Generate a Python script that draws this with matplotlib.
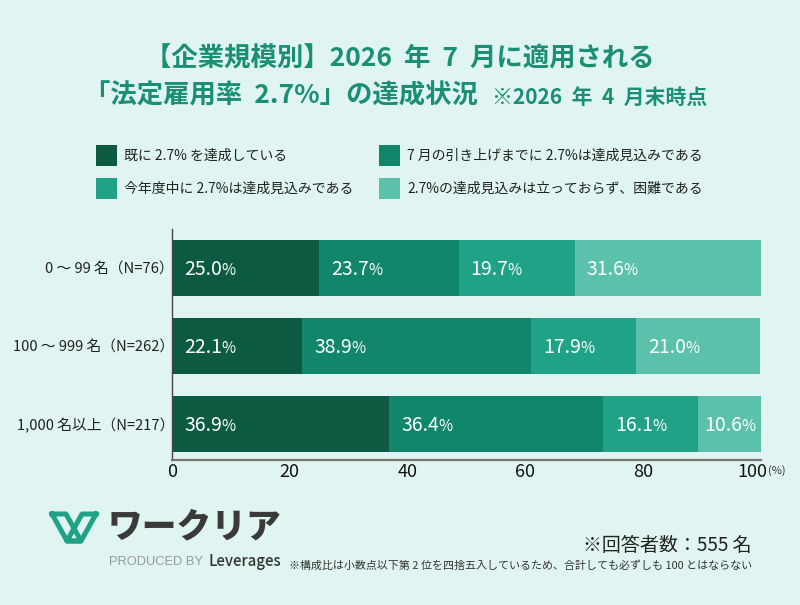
import matplotlib
matplotlib.use('Agg')
import matplotlib.pyplot as plt
from matplotlib.patches import Rectangle
from matplotlib.transforms import ScaledTranslation

plt.rcParams['font.family'] = ['Noto Sans CJK JP', 'DejaVu Sans']

# Datos
grupos = ['0 ～ 99 名（N=76）', '100 ～ 999 名（N=262）', '1,000 名以上（N=217）']
ya_logrado = [25.0, 22.1, 36.9]
antes_julio = [23.7, 38.9, 36.4]
este_anio = [19.7, 17.9, 16.1]
dificil = [31.6, 21.0, 10.6]
series = [ya_logrado, antes_julio, este_anio, dificil]
leyendas = ['既に 2.7% を達成している', '7 月の引き上げまでに 2.7%は達成見込みである',
            '今年度中に 2.7%は達成見込みである', '2.7%の達成見込みは立っておらず、困難である']
colores = ['#0b5a41', '#12866a', '#1fa286', '#5bc1ab']
ticks = [0, 20, 40, 60, 80, 100]

fondo = '#e0f5f1'
verde = '#1a8f74'
W, H = 800, 605

fig = plt.figure(figsize=(8, 6.05), dpi=100, facecolor=fondo)

# Capa en pixeles para textos y logo
capa = fig.add_axes([0, 0, 1, 1])
capa.set_xlim(0, W)
capa.set_ylim(H, 0)
capa.axis('off')

# Titulo
capa.text(400, 59, '【企業規模別】2026  年  7  月に適用される', ha='center', va='center',
          fontsize=19, fontweight='bold', color=verde)
capa.text(84, 96, '「法定雇用率  2.7%」の達成状況', ha='left', va='center',
          fontsize=19, fontweight='bold', color=verde)
capa.text(492, 97, '※2026  年  4  月末時点', ha='left', va='center',
          fontsize=15, fontweight='bold', color=verde)

# Leyenda
pos_leyenda = [(96, 155), (379, 155), (96, 188), (379, 188)]
for (x, y), txt, c in zip(pos_leyenda, leyendas, colores):
    capa.add_patch(Rectangle((x, y - 10.5), 21, 21, color=c, lw=0))
    capa.text(x + 28, y + 1, txt, ha='left', va='center', fontsize=10, color='#222222')

# Grafico de barras
ax = fig.add_axes([172 / W, 1 - 460 / H, 588.5 / W, 231 / H], facecolor='none')
izq = [0, 0, 0]
for vals, c in zip(series, colores):
    ax.barh(range(3), vals, left=izq, height=0.72, color=c, lw=0)
    for i, v in enumerate(vals):
        desde = 6 if v < 15 else 12
        ax.annotate(f'{v:.1f}', (izq[i], i), xytext=(desde, -1), textcoords='offset pixels',
                    ha='left', va='center', color='white', fontsize=14)
        ax.annotate('%', (izq[i], i), xytext=(desde + 37, -2), textcoords='offset pixels',
                    ha='left', va='center', color='white', fontsize=11)
    izq = [a + b for a, b in zip(izq, vals)]

ax.set_xlim(0, 100)
ax.set_ylim(2.46, -0.5)
ax.set_yticks(range(3))
ax.set_yticklabels(grupos, fontsize=10.6, color='#222222')
ax.set_xticks(ticks)
ax.set_xticklabels(ticks, fontsize=13, color='#111111')
ax.tick_params(axis='x', length=0, pad=2.5)
ax.tick_params(axis='y', length=0, pad=-1.5)
# el 100 va corrido a la izquierda
ult = ax.get_xticklabels()[-1]
ult.set_transform(ult.get_transform() + ScaledTranslation(-8 / 100, 0, fig.dpi_scale_trans))
for s in ['top', 'right']:
    ax.spines[s].set_visible(False)
ax.spines['left'].set_color('#444444')
ax.spines['left'].set_linewidth(1.0)
ax.spines['bottom'].set_color('#777777')
ax.spines['bottom'].set_linewidth(1.6)

capa.text(768, 471, '(%)', ha='left', va='center', fontsize=8, color='#333333')

# Logo
for xs, ys in [([52, 66, 81, 67, 52], [514, 514, 541, 541, 514]),
               ([96, 82, 67, 81, 96], [514, 514, 541, 541, 514])]:
    capa.plot(xs, ys, color='#1fa286', lw=3.6, solid_joinstyle='round')
capa.text(108, 527, 'ワークリア', ha='left', va='center', fontsize=25, fontweight='black', color='#3a3a3a')
capa.text(109, 562, 'PRODUCED BY', ha='left', va='center', fontsize=9.3, color='#9a9a9a',
          family=['Liberation Sans'])
capa.text(208, 561, 'Leverages', ha='left', va='center', fontsize=10.8, fontweight='medium', color='#333333')

# Notas
capa.text(752, 545, '※回答者数：555 名', ha='right', va='center', fontsize=13.7, color='#222222')
capa.text(752, 566, '※構成比は小数点以下第 2 位を四捨五入しているため、合計しても必ずしも 100 とはならない',
          ha='right', va='center', fontsize=7.92, color='#333333')

fig.savefig('out.png', dpi=100, facecolor=fondo)
